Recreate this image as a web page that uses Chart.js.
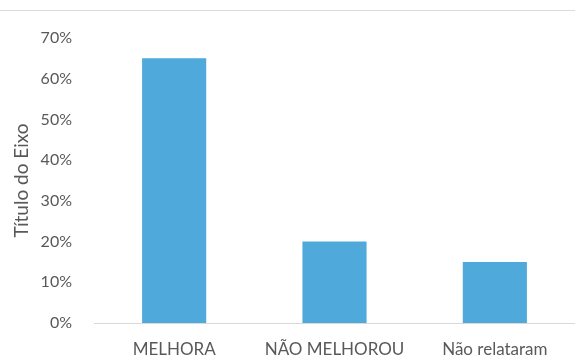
<!DOCTYPE html>
<html>
<head>
<meta charset="utf-8">
<script src="https://cdn.jsdelivr.net/npm/chart.js@4"></script>
<style>
  html, body { margin: 0; padding: 0; background: #fff; }
  #wrap { position: relative; width: 575px; height: 358px; }
  #topline { position: absolute; left: 0; top: 10px; width: 575px; height: 1px; background: #dcdcdc; }
</style>
</head>
<body>
<div id="wrap">
  <div id="topline"></div>
  <canvas id="myChart" width="575" height="358"></canvas>
</div>
<script>
  // data
  var categories = ['MELHORA', 'NÃO MELHOROU', 'Não relataram'];
  var values = [0.65, 0.20, 0.15];
  var tickLabels = ['0%', '10%', '20%', '30%', '40%', '50%', '60%', '70%'];
  var axisTitle = 'Título do Eixo';

  var textColor = '#595959';
  var family = 'Lato, "Open Sans", sans-serif';

  var ctx = document.getElementById('myChart').getContext('2d');
  var chart = new Chart(ctx, {
      type: 'bar',
      data: {
          labels: categories,
          datasets: [{
              data: values,
              backgroundColor: '#4fa9db',
              borderWidth: 0,
              barPercentage: 0.4,
              categoryPercentage: 1.0
          }]
      },
      options: {
          responsive: false,
          animation: false,
          layout: { padding: { top: 38, right: 0, bottom: 0, left: 10 } },
          plugins: { legend: { display: false }, tooltip: { enabled: false } },
          scales: {
              x: {
                  grid: { display: false, drawTicks: false },
                  border: { color: '#d9d9d9', width: 1 },
                  ticks: { color: textColor, font: { family: family, size: 17 }, padding: 16, maxRotation: 0 },
                  afterFit: function(scale) { scale.height = 35; }
              },
              y: {
                  min: 0,
                  max: 0.7,
                  grid: { display: false, drawTicks: false },
                  border: { display: false },
                  ticks: {
                      stepSize: 0.1,
                      color: textColor,
                      font: { family: family, size: 16 },
                      padding: 22,
                      callback: function(v, i) { return tickLabels[i]; }
                  },
                  title: { display: true, text: axisTitle, color: textColor, font: { family: family, size: 19 }, padding: 0 },
                  afterFit: function(scale) { scale.width = 84; }
              }
          }
      }
  });
</script>
</body>
</html>
